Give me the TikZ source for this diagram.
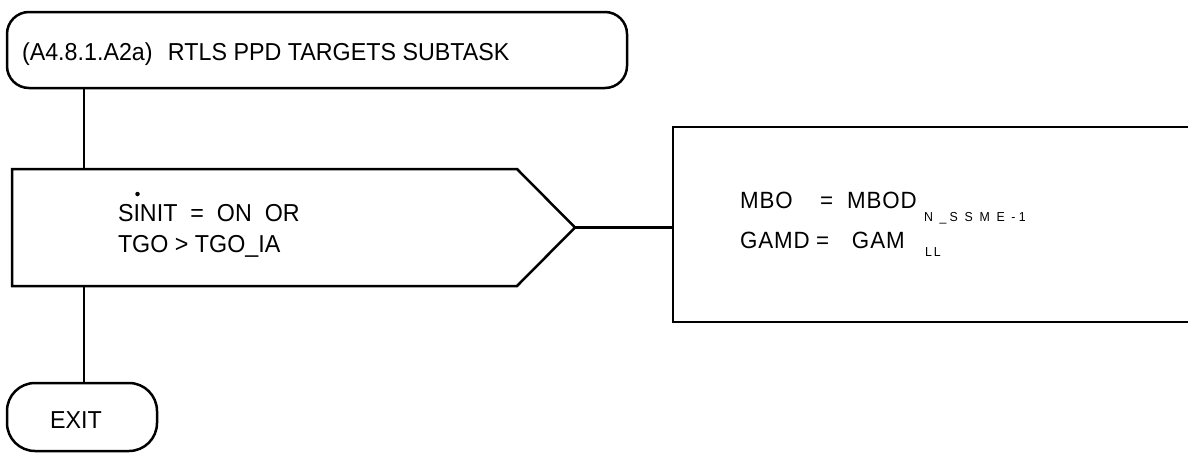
\documentclass[tikz,border=0pt]{standalone}
\usepackage{fontspec}
\setmainfont{Liberation Sans}[FakeStretch=0.95]
\newfontfamily\boxf{Liberation Sans}[FakeStretch=0.95,LetterSpace=4]
\newfontfamily\subf{Liberation Sans}[FakeStretch=0.95,LetterSpace=25]
\newfontfamily\subg{Liberation Sans}[FakeStretch=0.95,LetterSpace=15]
\begin{document}
\begin{tikzpicture}[x=1pt,y=-1pt,line width=2.5pt,
  termbox/.style={draw, inner sep=0pt, outer sep=0pt, anchor=north west},
  txt/.style={anchor=base west, inner sep=0pt, outer sep=0pt, font=\fontsize{24.5}{29}\selectfont},
  subtxt/.style={anchor=base west, inner sep=0pt, outer sep=0pt, font=\fontsize{13}{15}\subf},
  subtxtb/.style={anchor=base west, inner sep=0pt, outer sep=0pt, font=\fontsize{13}{15}\subg},
  conn/.style={draw, line width=2.5pt}]
\useasboundingbox (0,0) rectangle (1188,455);
\clip (0,0) rectangle (1188,455);
% start terminal
\node[termbox, rounded corners=22pt, minimum width=620pt, minimum height=76pt] (start) at (7,12) {};
\node[txt] (title) at (22,60) {\rlap{(A4.8.1.A2a)}\hspace{146pt}RTLS PPD TARGETS SUBTASK};
% decision
\coordinate (dtl) at (12,169);
\coordinate (dtr) at (517,169);
\coordinate (dtip) at (575,227.5);
\coordinate (dbr) at (517,286);
\coordinate (dbl) at (12,286);
\coordinate (dtop) at (84,169);
\coordinate (dbot) at (84,286);
\draw[line join=miter] (dtl) -- (dtr) -- (dtip) -- (dbr) -- (dbl) -- cycle;
\node[txt] (cond1) at (118,221) {SINIT\ \ =\ \ ON\ \ OR};
\node[circle, fill, inner sep=0pt, minimum size=4.5pt] (sdot) at (137.5,194) {};
\node[txt] (cond2) at (118,252) {TGO > TGO\_IA};
% process box (open to the right)
\coordinate (bleft) at (673,227.5);
\coordinate (btl) at (673,127);
\coordinate (bbl) at (673,322);
\draw[line join=miter] (1200,127) -- (btl) -- (bbl) -- (1200,322);
\node[txt, font=\fontsize{23.5}{27}\boxf] (mbo) at (740,208) {\rlap{MBO}\hspace{80pt}\rlap{=}\hspace{27pt}MBOD};
\node[subtxt] (mbosub) at (924,221) {N \_S S M E -1};
\node[txt, font=\fontsize{23.5}{27}\boxf] (gamd) at (740,248) {\rlap{GAMD}\hspace{76pt}\rlap{=}\hspace{36pt}GAM};
\node[subtxtb] (gamsub) at (925,256) {LL};
% exit terminal
\node[termbox, rounded corners=28pt, minimum width=150pt, minimum height=68pt] (exit) at (7,383) {};
\node[txt] (exittxt) at (50,428) {EXIT};
% connectors
\draw[conn] (start.south -| dtop) -- (dtop);
\draw[conn] (dbot) -- (exit.north -| dbot);
\draw[conn] (dtip) -- (bleft);
\end{tikzpicture}
\end{document}
